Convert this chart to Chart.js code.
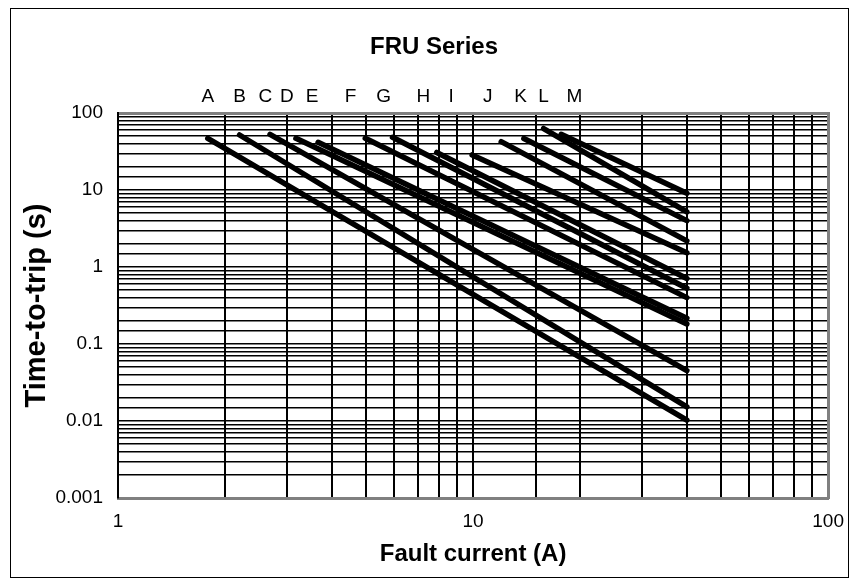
<!DOCTYPE html>
<html lang="en">
<head>
<meta charset="UTF-8">
<title>FRU Series</title>
<script src="https://cdn.jsdelivr.net/npm/chart.js"></script>
<style>
  body { margin: 0; background: #fff; }
  #wrap { position: relative; width: 856px; height: 584px; }
  #frame { position: absolute; left: 10px; top: 8px; width: 837px; height: 568px; border: 1px solid #000; pointer-events: none; }
</style>
</head>
<body>
<div id="wrap">
  <canvas id="fruChart" width="856" height="584"></canvas>
  <div id="frame"></div>
</div>
<script>
// curve names and where each one starts / ends (current in A, time in s)
const seriesNames = ['A', 'B', 'C', 'D', 'E', 'F', 'G', 'H', 'I', 'J', 'K', 'L', 'M'];
const startCurrent = [1.79, 2.20, 2.68, 3.17, 3.66, 4.97, 5.93, 7.90, 9.94, 12.0, 13.9, 15.8, 17.7];
const startTime = [46.9, 51.8, 52.9, 46.9, 41.6, 46.9, 48.4, 30.7, 28.5, 42.4, 46.7, 62.9, 52.9];
const endCurrent = [40, 40, 40, 40, 40, 40, 40, 40, 40, 40, 40, 40, 40];
const endTime = [0.0103, 0.0153, 0.045, 0.182, 0.216, 0.40, 0.53, 0.71, 1.53, 2.18, 4.0, 5.2, 9.06];

// letter labels along the top edge
const letterCurrent = [1.79, 2.20, 2.60, 2.99, 3.52, 4.52, 5.60, 7.24, 8.68, 11.0, 13.6, 15.8, 19.3];

// tick labels
const xMajor = [1, 10, 100];
const xTickLabels = ['1', '10', '100'];
const yMajor = [0.001, 0.01, 0.1, 1, 10, 100];
const yTickLabels = ['0.001', '0.01', '0.1', '1', '10', '100'];

Chart.defaults.font.family = '"Liberation Sans", Arial, sans-serif';
Chart.defaults.color = '#000';

function majorLabel(v, majors, labels) {
    const i = majors.findIndex(m => Math.abs(m - v) < m * 1e-6);
    return i >= 0 ? labels[i] : '';
}

const datasets = seriesNames.map((name, i) => ({
    label: name,
    data: [
        { x: startCurrent[i], y: startTime[i] },
        { x: endCurrent[i], y: endTime[i] }
    ],
    borderColor: '#000',
    backgroundColor: '#000',
    borderWidth: 5.5,
    borderCapStyle: 'round',
    pointRadius: 0,
    fill: false
}));

const ctx = document.getElementById('fruChart').getContext('2d');
new Chart(ctx, {
    type: 'line',
    data: { datasets: datasets },
    options: {
        responsive: false,
        animation: false,
        layout: { padding: { left: 12, right: 0, top: 0, bottom: 0 } },
        plugins: {
            legend: { display: false },
            tooltip: { enabled: false },
            title: {
                display: true,
                text: 'FRU Series',
                font: { size: 24, weight: 'bold' },
                padding: { top: 33, bottom: 0 }
            }
        },
        scales: {
            x: {
                type: 'logarithmic',
                position: 'bottom',
                min: 1,
                max: 100,
                grid: { color: '#000', lineWidth: 2, drawTicks: false },
                border: { color: '#808080', width: 3 },
                ticks: {
                    font: { size: 19 },
                    padding: 12,
                    autoSkip: false,
                    maxRotation: 0,
                    callback: v => majorLabel(v, xMajor, xTickLabels)
                },
                title: {
                    display: true,
                    text: 'Fault current (A)',
                    font: { size: 24, weight: 'bold' },
                    padding: { top: 0, bottom: 15 }
                },
                afterFit: s => { s.height = 86; }
            },
            x2: {
                type: 'logarithmic',
                position: 'top',
                min: 1,
                max: 100,
                grid: { display: false, drawTicks: false },
                border: { display: true, color: '#808080', width: 3 },
                ticks: {
                    font: { size: 19 },
                    padding: 5,
                    autoSkip: false,
                    maxRotation: 0,
                    callback: (v, i) => seriesNames[i]
                },
                afterBuildTicks: s => { s.ticks = letterCurrent.map(v => ({ value: v })); },
                afterFit: s => { s.height = 51.2; }
            },
            y: {
                type: 'logarithmic',
                position: 'left',
                min: 0.001,
                max: 100,
                grid: { color: '#000', lineWidth: 1.5, drawTicks: false },
                border: { color: '#000', width: 2 },
                ticks: {
                    font: { size: 19 },
                    padding: 15,
                    autoSkip: false,
                    callback: v => majorLabel(v, yMajor, yTickLabels)
                },
                title: {
                    display: true,
                    text: 'Time-to-trip (s)',
                    font: { size: 29, weight: 'bold' },
                    padding: { top: 8, bottom: 0 }
                },
                afterFit: s => { s.width = 106; }
            },
            y2: {
                type: 'linear',
                position: 'right',
                grid: { display: false, drawTicks: false },
                border: { display: true, color: '#808080', width: 3 },
                ticks: { display: false },
                afterFit: s => { s.width = 25; }
            }
        }
    }
});
</script>
</body>
</html>
